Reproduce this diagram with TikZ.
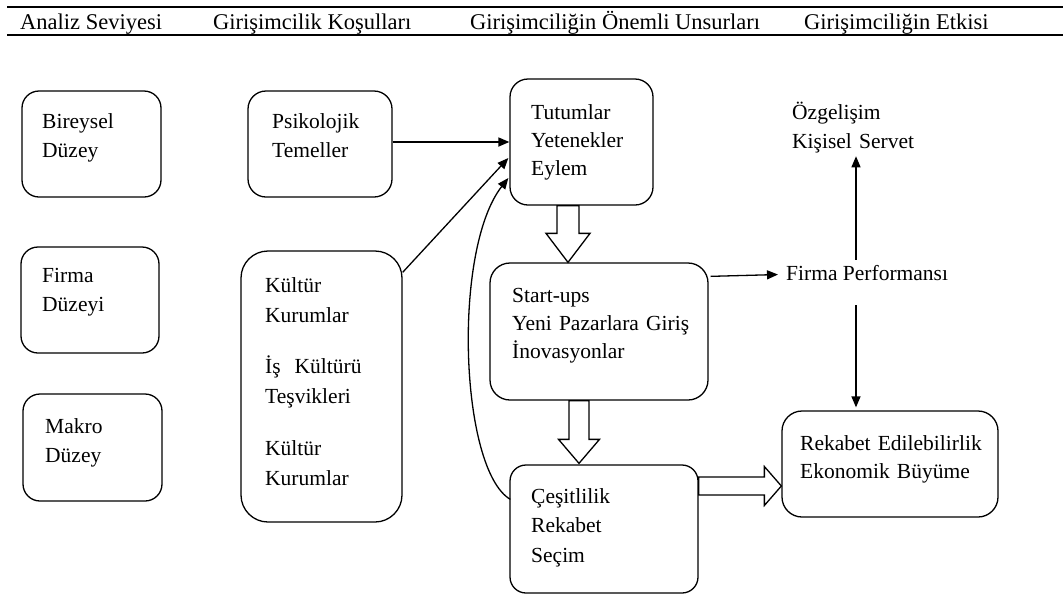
\documentclass[tikz,border=0pt]{standalone}
\usepackage{fontspec}
\setmainfont{Liberation Serif}
\usetikzlibrary{arrows.meta,calc}
\begin{document}
\begin{tikzpicture}[x=1pt,y=-1pt,
  box/.style={draw,line width=1.3pt,rounded corners=#1,inner sep=0pt},
  box/.default=17pt,
  txt/.style={anchor=base west,inner sep=0pt,align=left,text width=220pt,font=\fontsize{21.5}{29.5}\selectfont},
  hdr/.style={anchor=base west,inner sep=0pt,font=\fontsize{22.5}{27}\selectfont},
  rule/.style={line width=1.8pt},
  arr/.style={line width=1.3pt,-{Triangle[length=11pt,width=9pt]}},
  blk/.style={draw,line width=1.3pt,fill=white,line join=miter}]
\useasboundingbox (0,0) rectangle (1063,595);

% header
\coordinate (rl) at (7,7);
\coordinate (rr) at (1063,7);
\coordinate (bl) at (7,35);
\coordinate (br) at (1063,35);
\draw[rule] (rl) -- (rr);
\draw[rule] (bl) -- (br);
\node[hdr] (h1) at (20,29) {Analiz Seviyesi};
\node[hdr] (h2) at (213,29) {Girişimcilik Koşulları};
\node[hdr] (h3) at (470,29) {Girişimciliğin Önemli Unsurları};
\node[hdr] (h4) at (804,29) {Girişimciliğin Etkisi};

% boxes
\node[box,minimum width=139pt,minimum height=106pt] (b1) at (91.5,144) {};
\node[box,minimum width=138pt,minimum height=106pt] (b2) at (90,300) {};
\node[box,minimum width=139pt,minimum height=107pt] (b3) at (92.5,447.5) {};
\node[box=18pt,minimum width=144pt,minimum height=106pt] (psi) at (320,144) {};
\node[box=27pt,minimum width=161pt,minimum height=271pt] (kul) at (321.5,386.5) {};
\node[box=18pt,minimum width=143pt,minimum height=126pt] (tut) at (581.5,142) {};
\node[box=20pt,minimum width=218pt,minimum height=137pt] (su) at (599,331.5) {};
\node[box=16pt,minimum width=188pt,minimum height=128pt] (ces) at (604,529) {};
\node[box=20pt,minimum width=216pt,minimum height=106pt] (rek) at (890,464) {};

% texts
\node[txt] (t1) at (42,128) {Bireysel\\Düzey};
\node[txt] (t2) at (42,282) {Firma\\Düzeyi};
\node[txt] (t3) at (45,433) {Makro\\Düzey};
\node[txt] (tpsi) at (272,128) {Psikolojik\\Temeller};
\node[txt,font=\fontsize{21.5}{30}\selectfont] (tkul) at (265,292)
  {Kültür\\Kurumlar\\[21pt]İş\hspace{14pt}Kültürü\\Teşvikleri\\[22pt]Kültür\\Kurumlar};
\node[txt,font=\fontsize{21.5}{28}\selectfont] (ttut) at (531,119) {Tutumlar\\Yetenekler\\Eylem};
\node[txt,font=\fontsize{21.5}{28}\selectfont] (tsu) at (512,302) {Start-ups\\Yeni Pazarlara Giriş\\İnovasyonlar};
\node[txt] (tces) at (531,503) {Çeşitlilik\\Rekabet\\Seçim};
\node[txt,font=\fontsize{21.5}{28}\selectfont] (trek) at (800,450) {Rekabet Edilebilirlik\\Ekonomik Büyüme};
\node[txt] (oz) at (792,119) {Özgelişim\\Kişisel Servet};
\node[anchor=base west,inner sep=0pt,font=\fontsize{21.5}{28}\selectfont] (fp) at (786,280) {Firma Performansı};

% connectors
\draw[arr,line width=1.7pt] ([yshift=2pt]psi.east) -- ([yshift=2pt]psi.east -| tut.west);
\draw[arr] ($(kul.north east)+(0,22)$) -- ($(tut.west)+(-1,16)$);
\draw[arr] ($(ces.north west)+(1,35)$) .. controls (460,470) and (452,250) .. ($(tut.west)+(-1,36)$);
\draw[arr] ($(su.north east)+(2,14)$) -- ($(fp.west)+(-8,2)$);
\coordinate (vx) at (856,0);
\draw[arr] ($(vx |- fp.north)+(0,-5)$) -- ($(vx |- oz.south)+(0,3)$);
\draw[arr] ($(vx |- fp.south)+(0,25)$) -- ($(vx |- rek.north)+(0,-3)$);

% block arrows
\draw[blk] let \p1=(tut.south), \p2=(su.north) in
  (557pt,\y1) -- (579pt,\y1) -- (579pt,\y2+29pt) -- (590pt,\y2+29pt) -- (568pt,\y2)
  -- (546pt,\y2+29pt) -- (557pt,\y2+29pt) -- cycle;
\draw[blk] let \p1=(su.south), \p2=(ces.north) in
  (569pt,\y1) -- (589pt,\y1) -- (589pt,\y2+25pt) -- (599.5pt,\y2+25pt) -- (579pt,\y2+1pt)
  -- (558.5pt,\y2+25pt) -- (569pt,\y2+25pt) -- cycle;
\draw[blk] let \p1=(ces.east), \p2=(rek.west) in
  (\x1,-477pt) -- (\x2-17pt,-477pt) -- (\x2-17pt,-466.5pt) -- (\x2,-486pt) -- (\x2-17pt,-505.5pt)
  -- (\x2-17pt,-495pt) -- (\x1,-495pt) -- cycle;
\end{tikzpicture}
\end{document}
